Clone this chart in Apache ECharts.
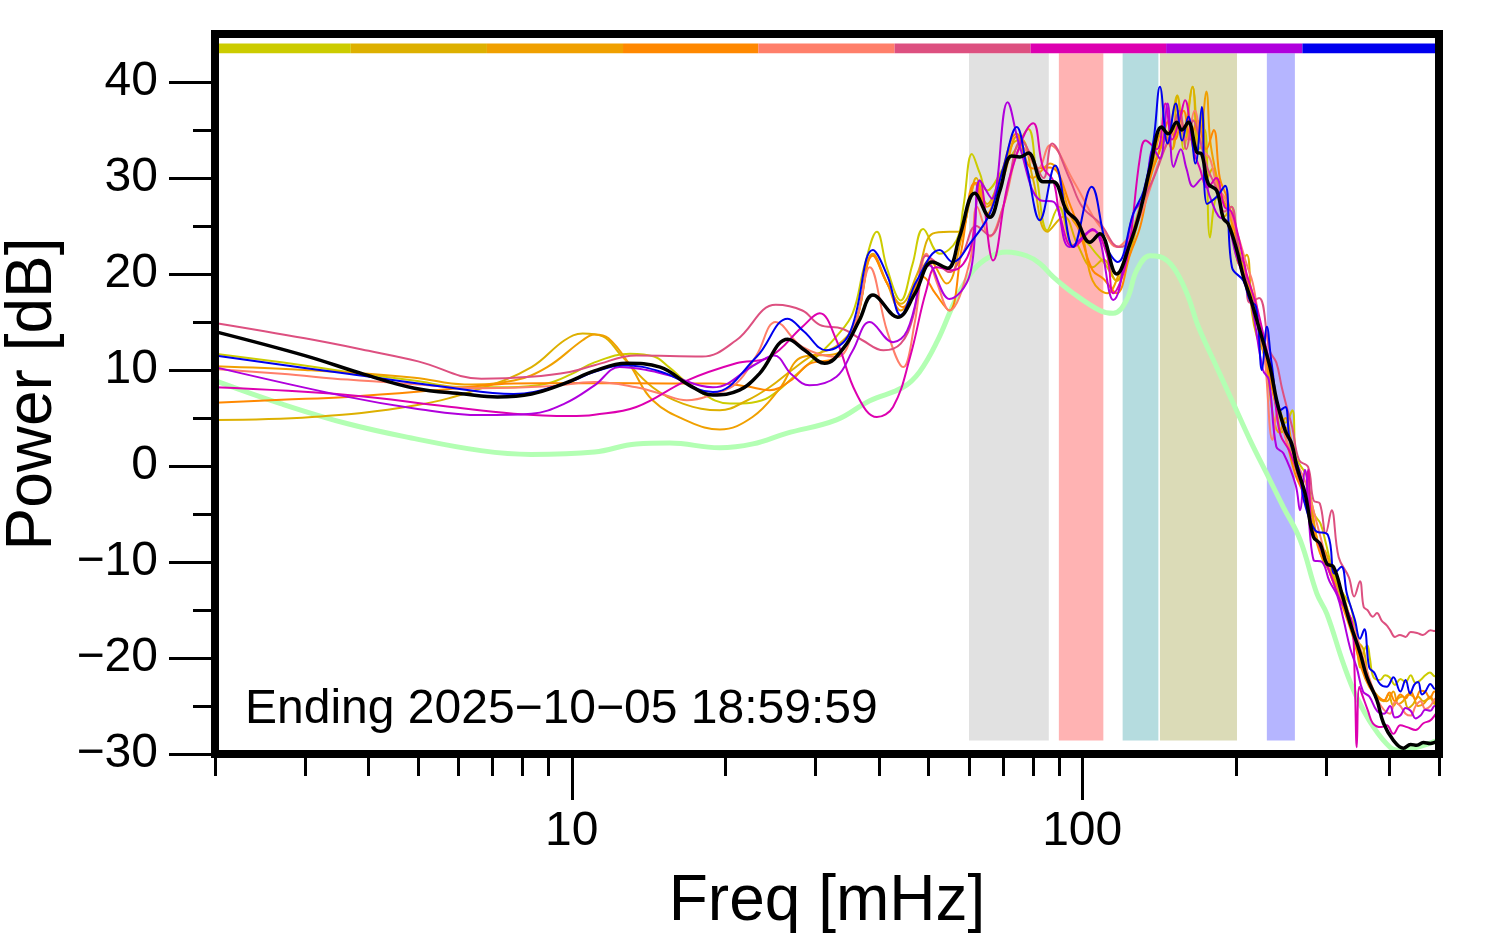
<!DOCTYPE html>
<html><head><meta charset="utf-8">
<script src="https://cdn.jsdelivr.net/npm/echarts@6/dist/echarts.min.js"></script>
<style>html,body{margin:0;padding:0;background:#fff}#c{width:1494px;height:952px}</style>
</head><body><div id="c"></div>
<script>
// ---- data (frequency in mHz, power in dB) ----
const xMajorTicks = [10, 100];
const xMinorTicks = [2,3,4,5,6,7,8,9,20,30,40,50,60,70,80,90,200,300,400,500];
const yMajorTicks = [-30,-20,-10,0,10,20,30,40];
const yMinorTicks = [-25,-15,-5,5,15,25,35];
const bands = [[60,86],[90,110],[120,141],[142,201],[230,261]];
const bandRange = [-28.6, 43];
const colorBarEdges = [2, 3.69, 6.82, 12.6, 23.2, 42.9, 79.2, 146, 270, 500];
const colorBarRange = [43, 44];
const stamp = 'Ending 2025\u221210\u221205 18:59:59';

const yel = [[2,11.7],[2.7,10.8],[3.64,9.8],[4.9,8.9],[6.16,8.2],[7.5,8.2],[8.95,8.6],[10,9.6],[11.08,10.8],[13,11.7],[14.5,11.4],[15.5,10.3],[17.5,8.0],[20.4,6.5],[22.5,6.6],[24.4,7.2],[27.5,9.5],[30.6,11.7],[33,13.5],[35.5,15.9],[37.5,21],[39.6,24.4],[41.5,20.5],[44.1,17.25],[46.5,21],[48.8,24.7],[52.6,22.1],[56.7,23.5],[58.5,27],[60.8,32.5],[63,30.5],[65.1,28.7],[70,31],[74,33],[78.4,35.1],[81.5,30],[85.4,24.55],[90,27],[96,23],[100,23.5],[106.6,22.1],[111,21],[116.8,19.3],[122,22],[128,26],[135,30],[142,33],[148,35],[153.6,38.6],[158,33],[164.5,39.5],[170,33],[174,35],[178,23.8],[184,28],[190,28],[195,24.5],[200,24],[206,21],[213,19],[219,16.5],[225,14],[233,9],[240,7],[245,5.5],[250,4.5],[258,5.8],[262,1],[268,0],[275,-1],[285,-5],[293,-6],[300,-8],[310,-11],[322,-13],[335,-14.5],[340,-16],[345,-18.5],[350,-21],[355,-19.5],[362,-18.7],[366,-20],[372,-22],[383,-22.3],[392,-21.8],[400,-22],[410,-22.8],[420,-22.2],[430,-22.5],[440,-21.8],[450,-22.6],[460,-22.3],[470,-21.8],[480,-21.5],[490,-21.9],[500,-21.3]];
const gold = [[2,4.8],[3.1,5.1],[4.92,6.3],[6.65,8.1],[8.34,10.3],[9.68,13.1],[10.5,13.8],[11.5,13.5],[12.5,11.5],[14.4,8.2],[16.5,6.5],[19.5,5.8],[22,6.8],[24.4,8.2],[27,10],[29.6,11.5],[33,12.5],[36,15],[38.9,22],[41.5,19],[44.1,16.9],[47.5,20],[50.9,24.2],[54.9,24.4],[57.5,24.4],[60.3,27.7],[62,30],[65.1,27.3],[69,30],[73.1,33.6],[76,34],[80,30],[85.4,24.4],[92,26],[98,23],[104.8,20.7],[110,21.5],[116.8,19.3],[122,21],[128,25],[135,30],[140,32],[146,34],[150,33],[153.6,38.6],[158,35],[164.5,39.5],[168,33],[172,37],[176,30],[180,31],[185,28.5],[190,26],[196,27],[203,21],[210,22],[215,16],[220,13.4],[226,12],[232,10],[240,6],[246,3.5],[250,4],[258,1],[268,-2],[278,-4],[288,-7.5],[297,-10],[307,-11],[318,-13],[330,-15.5],[342,-18],[355,-19],[365,-22.5],[378,-24],[390,-24.5],[398,-23.8],[407,-25],[416,-24.2],[425,-24],[435,-25.2],[445,-24.8],[455,-24],[466,-24.5],[481,-24.2],[490,-24.8],[500,-24]];
const orange = [[2,10.4],[3,10],[4.92,9.2],[6.16,8.5],[7.7,8.9],[8.95,10.3],[10.5,13.1],[11.08,13.7],[11.8,13.3],[13,10.5],[14.4,6.85],[17,4.6],[19.5,3.8],[22.6,5.1],[25.5,8],[28.3,11.35],[33,11.7],[36,15],[38.9,22.1],[41.5,19],[44.1,16.2],[47,18.5],[50.2,21.4],[54.2,19.0],[58.3,24.2],[62,29.5],[65,27],[70,30],[74.4,34.3],[80,30],[86.5,31.5],[95,26],[100,24],[104.8,19.3],[112,18],[118,20],[125,24],[132,28],[138,32],[144,35],[150,33],[155,37],[160,34],[165,36],[170,35],[175,39],[178,34],[182,31],[188,28],[195,26],[200,22],[207,20],[215,18],[222,14],[230,10],[237,5],[243,3.5],[250,5],[258,2],[268,-2],[280,-4],[290,-8],[300,-9],[312,-12],[322,-13],[335,-16],[345,-19],[355,-21],[368,-23],[380,-24],[395,-24.5],[407,-23.5],[416,-24.8],[425,-24.5],[435,-23.8],[445,-24],[455,-25],[466,-24.8],[481,-24],[490,-24.6],[500,-24]];
const darkOrange = [[2,6.6],[2.7,6.9],[3.64,7.2],[5.7,8.0],[7.7,8.6],[11.08,8.65],[15.5,8.6],[19.5,8.6],[22,8.3],[24.4,7.9],[27,9],[29.2,10.65],[33,11.35],[36,15],[38.9,21.9],[41.5,19],[44.6,16.55],[48.8,19.7],[51.5,18],[54.9,16.2],[58,22.5],[61.6,29.5],[65.1,26.3],[69,30],[74.4,34.6],[80,31],[86.5,31.1],[95,27],[100,23.5],[104.8,20.4],[110,19.5],[116.8,18.0],[124,22],[130,25],[136,30],[142,33],[148,36],[152,34],[158,37],[163,34],[168,36],[175,33],[181,35],[186,30],[192,28],[198,25],[205,21],[213,18],[222,14],[230,11],[238,7],[245,5],[253,2],[262,-1],[272,-3],[282,-6],[292,-9],[302,-10.5],[315,-13],[328,-15.5],[340,-18],[352,-21],[365,-23],[378,-24],[390,-24.4],[400,-23.6],[410,-24.5],[420,-23.8],[430,-24.2],[440,-23.5],[450,-24.3],[460,-23.4],[470,-23.5],[480,-24.2],[490,-23.5],[500,-23.7]];
const salmon = [[2,10.1],[2.7,9.6],[3.64,9],[5,8.5],[6.65,8.1],[9,8.3],[11.08,8.75],[13.38,8.2],[15,7.5],[16.8,6.85],[19,7.5],[21,8.6],[23,11.5],[25.1,15.0],[28.3,12.4],[33,11.35],[36,15],[38.35,20.7],[41.5,14],[44.6,10.3],[47,15],[49.5,22.1],[52,19],[54.9,16.2],[60.3,21.4],[62.2,27.0],[65.9,23.9],[70,27],[76.5,33.2],[82,31],[86.5,33.4],[96,29.75],[105,26],[110,24.5],[116.8,22.8],[124,24],[130,26],[136,29],[142,32],[148,34],[154,36],[160,34],[166,37],[172,33],[178,32],[184,29],[190,28],[196,26],[202,24],[210,21],[216,19],[222,15],[228,11],[236,2.7],[242,6],[250,3],[258,1],[265,0],[275,-2],[285,-5],[295,-8],[305,-11],[318,-13.5],[330,-15],[342,-17],[355,-20],[370,-23],[385,-25],[401,-25.8],[410,-24.6],[420,-25],[430,-25.8],[440,-26],[450,-25],[460,-24.5],[470,-25.3],[481,-25],[490,-24.3],[500,-24]];
const rose = [[2,14.9],[3,13.3],[4,12.0],[5,10.9],[6.65,9.1],[8.3,9.3],[9.9,9.8],[11.08,10.5],[13.38,11.5],[18,11.4],[21,13.1],[25.1,16.8],[28.3,16.2],[30.6,14.7],[33.9,14.3],[37.1,13.1],[40.8,12.05],[44.1,12.75],[46.6,15.5],[49.5,21.9],[52.6,20.9],[54.9,20.2],[58.3,22.1],[62,25],[66,24],[70,27],[76.1,33.9],[80,32],[84,30],[87.3,33.6],[94.5,29.9],[100,27],[108.3,25.3],[118.4,22.8],[124,23.5],[130,27],[138,30],[145,33],[150,35],[155,37],[160,33],[165,36],[170,34],[176,31],[183,29],[190,26.5],[196,27],[203,22],[208,21],[213,17],[222,17.5],[233,12],[240,10.8],[246,8.2],[252,6],[258,4],[266,0.6],[277,-0.1],[284,-3.6],[292,-3.9],[300,-7],[308,-4.6],[318,-9.5],[333,-11.6],[341,-13.6],[350,-12],[356,-14.7],[362,-15],[371,-15.7],[378,-15.3],[386,-16.1],[395,-16.6],[401,-17.1],[410,-17.8],[419,-17.6],[430,-17.8],[440,-17.3],[453,-17.4],[465,-17.6],[481,-17.1],[490,-17.2],[499,-16.8]];
const magenta = [[2,8.2],[3.64,7.4],[5.7,6.2],[7.7,5.45],[9.9,5.2],[11.08,5.35],[13.38,6.15],[16.8,8.9],[21,10.7],[24.4,11.35],[28.3,14.5],[30.6,15.9],[33,13.1],[36.1,7.55],[39.6,5.1],[42.6,6.15],[46,11.35],[49.5,18.3],[51.8,20.7],[55.7,20.4],[60.3,22.5],[63,29.75],[66.9,21.4],[72,30],[80.2,35.7],[83.8,31.1],[87.7,29.75],[90.6,25.9],[96,22.8],[104.8,24.55],[111.7,22.1],[115,18.0],[122.2,21.4],[129.8,32.2],[133,33.9],[140,33],[145.6,37.75],[150,34],[155,36],[159,38.1],[165,33],[170,31],[176,29],[183,30],[190,27],[196,26.5],[202,24],[210,20],[220,16.5],[230,12],[236,9.3],[244,3.4],[255,1.5],[267,-1.5],[273,-3.9],[277,-0.4],[282,-7],[290,-8],[300,-10],[310,-12],[320,-14],[330,-15],[338,-16.4],[342,-22.3],[345,-29.3],[349,-23],[355,-24.1],[363,-25.5],[371,-26.8],[385,-27.2],[395,-27],[407,-27.9],[420,-27],[433,-27.2],[450,-27.5],[466,-26.8],[481,-26.5],[490,-26],[499,-25.4]];
const purple = [[2,10.3],[3.64,7.2],[4.92,6.0],[6.65,5.3],[8.34,5.45],[9.68,6.5],[11.08,8.4],[12.4,10.3],[14,10],[15.5,9.45],[18.9,8.2],[23,10.65],[24.9,11.5],[27,9.5],[29.2,8.4],[33,9.3],[35.5,12],[38.35,15.0],[42.6,12.9],[45.4,14.1],[50.2,20.9],[54.9,17.4],[60.3,20.0],[63,29.75],[66.5,27.85],[71.4,37.9],[75.5,33.2],[82.6,27.7],[88,27.5],[94.5,22.8],[104.8,24.7],[115,17.3],[125.9,26.3],[132,28],[138,33],[142,32],[147,37.75],[151,31.15],[156,33],[160,31],[165,29.1],[172,30],[178,28],[185,26],[192,25.5],[200,22],[206,20],[215,16.6],[226,10],[232,9],[240,2.0],[248,1.3],[262,-2],[267,-4.6],[273,-0.4],[284,-9.8],[295,-10],[305,-12],[316,-13.5],[325,-16],[335,-19],[345,-21],[355,-23.5],[365,-24],[378,-25.5],[390,-25.8],[401,-25],[410,-26.2],[420,-26],[430,-25.2],[440,-25.5],[450,-26.3],[460,-26],[470,-25.4],[481,-25.5],[490,-25],[499,-25.4]];
const blue = [[2,11.5],[3.64,9.6],[5.7,8.2],[7.7,7.5],[9.68,8.6],[11.08,9.8],[12.6,10.5],[15,9.8],[18.9,7.7],[23,11.35],[26.5,15.35],[28.5,14],[31.5,12.05],[35,13.8],[38.9,22.5],[41.6,19.7],[44.1,15.7],[47.4,19.3],[52.6,22.5],[55.7,21.25],[60.3,23.2],[65.9,26.3],[70,31],[74.4,35.3],[78,31],[82.6,25.6],[88.5,31.3],[96,22.8],[104.3,29.1],[111.7,22.8],[117.4,21.25],[125.9,26.3],[132,28.7],[138,34],[142,39.5],[147,33.6],[152.5,37.75],[157,33.9],[161.4,36.4],[166.7,31.5],[171.5,37.4],[175.6,27.3],[183,28],[190.5,29.2],[196.5,20.7],[206.9,19.3],[213,17.25],[219,16.6],[225,10],[230,14.5],[235,10.7],[244,5.8],[250,6.15],[255,2.7],[267,-0.8],[272,-3.6],[286,-6.7],[303,-7.2],[312,-11.2],[322,-10.5],[330,-13.3],[342,-16],[350,-18],[357,-17],[365,-21],[373,-21.5],[383,-22.7],[395,-23],[407,-22],[420,-23.5],[430,-22.3],[439,-23.7],[447,-22.8],[455,-22.5],[463,-23.8],[470,-23.5],[481,-22.7],[490,-23.2],[499,-22.5]];
const mean = [[2,14.0],[3,11.5],[3.92,9.55],[4.92,8.1],[6.16,7.5],[7.15,7.2],[8.34,7.5],[9.68,8.6],[11.08,9.9],[12.8,10.7],[14.9,10.3],[17,8.4],[18.9,7.4],[21.3,7.9],[23.3,9.6],[26.5,13.2],[28.6,12.05],[31.3,10.7],[34.2,12.4],[36.6,15.2],[38.9,17.8],[43.5,15.5],[47,17.95],[50.9,21.25],[54.5,20.6],[57.5,23.9],[61.6,28.4],[65.9,25.9],[69,28.7],[72.7,32.3],[75.5,32.2],[78.4,32.6],[83.8,29.6],[87.7,29.6],[93.2,26.6],[97.5,25.6],[103.5,23.3],[108.3,24.2],[116.8,20.0],[124.1,23.2],[129.8,26.5],[135.8,31.0],[143.1,35.3],[147.5,34.6],[153.1,35.8],[156.7,35.0],[161.4,35.8],[167.6,32.7],[171.4,32.5],[176.6,29.4],[183.4,28.7],[189,25.8],[193.3,25.2],[200.8,22.5],[206.9,19.7],[213.2,17.6],[219.8,15.2],[233.3,10.3],[240.5,6.8],[249.8,3.7],[257.4,2.3],[263.3,-0.1],[273.4,-2.9],[283.8,-7.4],[292.5,-8.1],[301.5,-10.2],[310.6,-10.5],[322.6,-13.3],[335,-16.4],[350.4,-19.5],[361.2,-22.0],[377.9,-24.4],[389.3,-26.8],[407.3,-28.6],[426,-29.4],[440,-29.0],[452.6,-29.1],[466,-28.8],[480.6,-28.9],[499,-28.6]];
const baseline = [[2,8.9],[2.69,6.5],[3.64,4.4],[4.92,2.85],[6.64,1.6],[8.32,1.2],[11.08,1.45],[13.38,2.3],[15.54,2.4],[19.48,1.9],[22.64,2.3],[26.33,3.4],[33,4.8],[38.35,6.8],[44.57,8.2],[48,9.8],[52,13.0],[56.7,17.5],[61.2,20.4],[65.9,21.8],[71.1,22.3],[77.8,21.9],[82.6,21.1],[87.7,19.7],[96,18.0],[108.3,16.2],[115,15.9],[122.2,17.3],[127.9,20.4],[135.8,21.9],[142,21.8],[150.8,20.7],[160.3,18.0],[168.9,14.5],[183.4,10.3],[197.8,6.5],[213.2,2.7],[229.9,-0.8],[247.9,-4.3],[267.3,-7.7],[288.2,-13.3],[301.5,-15.4],[324.9,-20.6],[345.1,-24.1],[372.1,-27.2],[401.2,-29.3],[419.6,-29.6],[452.6,-29.3],[495.4,-28.6]];

// ---- styles ----
const FONT = '"Liberation Sans", Arial, Helvetica, sans-serif';
const lines = [
  {data: yel, color: '#cccc00'},
  {data: gold, color: '#ddb000'},
  {data: orange, color: '#f0a000'},
  {data: darkOrange, color: '#ff8800'},
  {data: salmon, color: '#ff7f6a'},
  {data: rose, color: '#dd5080'},
  {data: magenta, color: '#dd00b0'},
  {data: purple, color: '#b000dd'},
  {data: blue, color: '#0000ee'}
];
const bandColors = ['#e1e1e1', '#ffb3b3', '#b5dcdf', '#dbdbb7', '#b5b5ff'];
const barColors = ['#cccc00', '#ddb000', '#f0a000', '#ff8800', '#ff7f6a', '#dd5080', '#dd00b0', '#b000dd', '#0000ee'];

const areaData = [];
bands.forEach((b, i) => areaData.push([
  {xAxis: b[0], yAxis: bandRange[0], itemStyle: {color: bandColors[i]}},
  {xAxis: b[1], yAxis: bandRange[1]}
]));
for (let i = 0; i < barColors.length; i++) {
  areaData.push([
    {xAxis: colorBarEdges[i], yAxis: colorBarRange[0], itemStyle: {color: barColors[i]}},
    {xAxis: colorBarEdges[i + 1], yAxis: colorBarRange[1]}
  ]);
}

const tickStyle = {color: '#000', width: 3};
const minus = v => (v < 0 ? '\u2212' + Math.abs(v) : String(v));

const series = [];
series.push({
  type: 'line', data: baseline, showSymbol: false, smooth: 0.4, z: 2,
  lineStyle: {color: '#b3ffb3', width: 5}, silent: true,
  markArea: {silent: true, z: 1, itemStyle: {opacity: 1}, data: areaData}
});
lines.forEach(l => series.push({
  type: 'line', data: l.data, showSymbol: false, smooth: 0.4, z: 3, silent: true,
  lineStyle: {color: l.color, width: 2}
}));
series.push({
  type: 'line', data: mean, showSymbol: false, smooth: 0.4, z: 4, silent: true,
  lineStyle: {color: '#000', width: 3.5}
});

const chart = echarts.init(document.getElementById('c'), null, {renderer: 'canvas'});
chart.setOption({
  animation: false,
  backgroundColor: '#fff',
  grid: {left: 215, right: 55, top: 34, bottom: 198, show: true, z: 10,
         containLabel: false, outerBoundsMode: 'none',
         borderColor: '#000', borderWidth: 8, backgroundColor: 'transparent'},
  xAxis: [
    {type: 'log', logBase: 10, min: 2, max: 500, position: 'bottom',
     axisLine: {show: false, onZero: false}, splitLine: {show: false}, minorTick: {show: false},
     axisTick: {show: true, inside: false, length: 46, lineStyle: tickStyle, customValues: xMajorTicks},
     axisLabel: {show: true, customValues: xMajorTicks, margin: 54, fontSize: 48, fontFamily: FONT, color: '#000',
                 formatter: v => String(Math.round(v))},
     name: 'Freq [mHz]', nameLocation: 'middle', nameGap: 116,
     nameTextStyle: {fontSize: 64, fontFamily: FONT, color: '#000'}},
    {type: 'log', logBase: 10, min: 2, max: 500, position: 'bottom',
     axisLine: {show: false, onZero: false}, splitLine: {show: false}, axisLabel: {show: false},
     axisTick: {show: true, inside: false, length: 22, lineStyle: tickStyle, customValues: xMinorTicks}}
  ],
  yAxis: [
    {type: 'value', min: -30, max: 45, position: 'left',
     axisLine: {show: false, onZero: false}, splitLine: {show: false},
     axisTick: {show: true, inside: false, length: 46, lineStyle: tickStyle, customValues: yMajorTicks},
     axisLabel: {show: true, customValues: yMajorTicks, margin: 57, fontSize: 48, fontFamily: FONT, color: '#000',
                 formatter: minus},
     name: 'Power [dB]', nameLocation: 'middle', nameGap: 150,
     nameTextStyle: {fontSize: 64, fontFamily: FONT, color: '#000'}},
    {type: 'value', min: -30, max: 45, position: 'left',
     axisLine: {show: false, onZero: false}, splitLine: {show: false}, axisLabel: {show: false},
     axisTick: {show: true, inside: false, length: 22, lineStyle: tickStyle, customValues: yMinorTicks}}
  ],
  graphic: [{
    type: 'text', z: 20,
    style: {x: 245, y: 686, text: stamp, font: '48px ' + FONT, fill: '#000', verticalAlign: 'top'}
  }],
  series: series
});
</script></body></html>
